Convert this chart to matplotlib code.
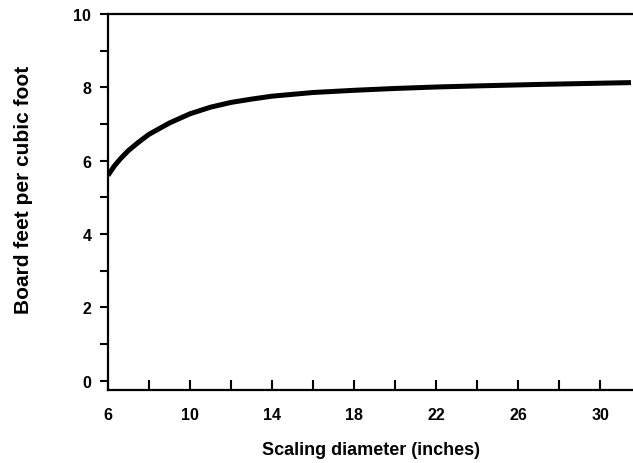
import matplotlib
matplotlib.use("Agg")
import matplotlib.pyplot as plt

# values
diameter = [6, 6.3, 6.6, 7, 7.5, 8, 9, 10, 11, 12, 13, 14, 16, 18, 20, 22, 24, 27, 31.5]
board_feet = [5.6, 5.85, 6.05, 6.28, 6.51, 6.72, 7.03, 7.28, 7.46, 7.59, 7.68, 7.76,
              7.86, 7.92, 7.97, 8.01, 8.04, 8.08, 8.13]

x_ticks = list(range(6, 31, 2))
x_labels = [str(t) if (t - 6) % 4 == 0 else "" for t in x_ticks]
y_ticks = list(range(0, 11))
y_labels = [str(t) if t % 2 == 0 else "" for t in y_ticks]

plt.rcParams['font.family'] = ['Liberation Sans', 'DejaVu Sans']
plt.rcParams['font.weight'] = 'bold'

fig = plt.figure(figsize=(6.33, 4.64), dpi=100)
ax = fig.add_axes([108 / 633, 73 / 464, 525 / 633, 376 / 464])

ax.plot(diameter, board_feet, color="black", linewidth=3.6,
        solid_capstyle="butt", solid_joinstyle="round")

ax.set_xlim(6, 31.6)
ax.set_ylim(-0.25, 10)

ax.set_xticks(x_ticks)
ax.set_xticklabels(x_labels)
ax.set_yticks(y_ticks)
ax.set_yticklabels(y_labels)

ax.tick_params(axis="x", direction="in", length=7, width=1.5, labelsize=11.5, pad=12)
ax.tick_params(axis="y", direction="out", length=6, width=1.5, labelsize=11.5, pad=6)

for s in ["left", "bottom", "top"]:
    ax.spines[s].set_linewidth(1.6)
ax.spines["right"].set_visible(False)

ax.set_xlabel("Scaling diameter (inches)", fontsize=13, fontweight="bold", labelpad=14)
ax.set_ylabel("Board feet per cubic foot", fontsize=15, fontweight="bold")
ax.yaxis.set_label_coords(-0.143, 0.535)

fig.savefig("out.png", dpi=100)
